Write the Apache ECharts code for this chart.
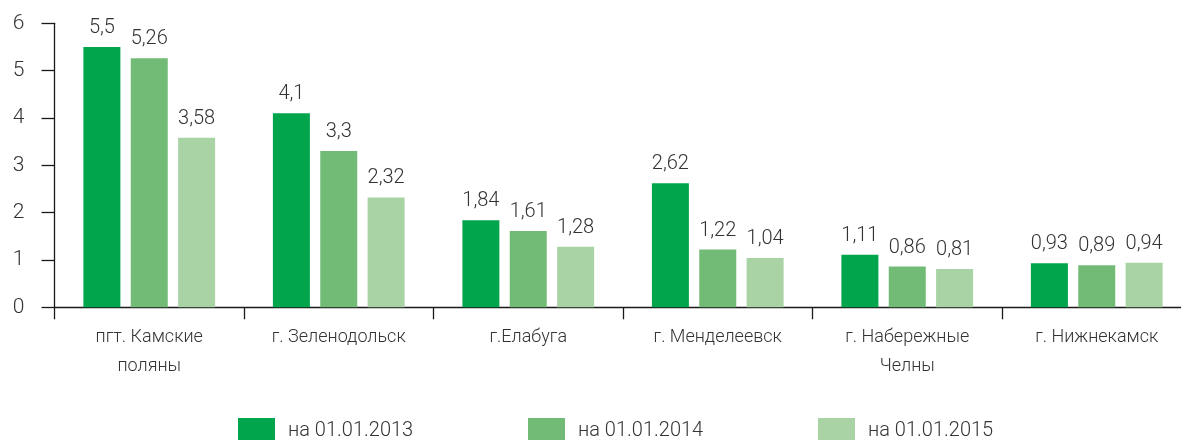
<!DOCTYPE html>
<html>
<head>
<meta charset="utf-8">
<script src="https://cdn.jsdelivr.net/npm/echarts@6/dist/echarts.min.js"></script>
<style>
  html, body { margin: 0; padding: 0; background: #fff; }
  #chart { width: 1181px; height: 440px; }
</style>
</head>
<body>
<div id="chart"></div>
<script>
// Categories (settlements) and yearly values
const categories = ['пгт. Камские\nполяны', 'г. Зеленодольск', 'г.Елабуга', 'г. Менделеевск', 'г. Набережные\nЧелны', 'г. Нижнекамск'];
const seriesNames = ['на 01.01.2013', 'на 01.01.2014', 'на 01.01.2015'];
const values2013 = [5.5, 4.1, 1.84, 2.62, 1.11, 0.93];
const values2014 = [5.26, 3.3, 1.61, 1.22, 0.86, 0.89];
const values2015 = [3.58, 2.32, 1.28, 1.04, 0.81, 0.94];
const yTicks = { min: 0, max: 6, interval: 1 };

const colors = ['#00a54c', '#72bb76', '#a9d3a4'];
const FONT = 'Roboto, "Liberation Sans", sans-serif';
const WEIGHT = 300;
const TEXT = '#333333';
const AXIS = '#1a1a1a';

const fmt = v => String(v).replace('.', ',');

function bar(name, data, color) {
  return {
    name, type: 'bar', data,
    barWidth: 37, barGap: '28%',
    itemStyle: { color },
    label: {
      show: true, position: 'top', distance: 9,
      formatter: p => fmt(p.value),
      fontFamily: FONT, fontWeight: WEIGHT, fontSize: 20, color: TEXT
    }
  };
}

const legendPos = [233, 523, 813];
const chart = echarts.init(document.getElementById('chart'), null, { renderer: 'canvas' });
chart.setOption({
  animation: false,
  color: colors,
  // the last category runs slightly past the right edge of the canvas
  grid: { left: 54.5, width: 1137, top: 23.3, bottom: 132.7, containLabel: false, outerBoundsMode: 'none' },
  legend: seriesNames.map((n, i) => ({
    data: [n], left: legendPos[i], top: 413,
    itemWidth: 37, itemHeight: 26, icon: 'rect',
    textStyle: { fontFamily: FONT, fontWeight: WEIGHT, fontSize: 20, color: TEXT, padding: [0, 0, 0, 8] }
  })),
  xAxis: {
    type: 'category', data: categories,
    axisLine: { lineStyle: { color: AXIS, width: 1.3 } },
    axisTick: { show: true, length: 12, lineStyle: { color: AXIS, width: 1.3 } },
    axisLabel: { fontFamily: FONT, fontWeight: WEIGHT, fontSize: 18, color: TEXT, margin: 16, lineHeight: 29, interval: 0 }
  },
  yAxis: {
    type: 'value', min: yTicks.min, max: yTicks.max, interval: yTicks.interval,
    splitLine: { show: false },
    axisLine: { show: true, lineStyle: { color: AXIS, width: 1.3 } },
    axisTick: { show: true, length: 13, lineStyle: { color: AXIS, width: 1.3 } },
    axisLabel: { fontFamily: FONT, fontWeight: WEIGHT, fontSize: 21, color: TEXT, margin: 30 }
  },
  series: [
    bar(seriesNames[0], values2013, colors[0]),
    bar(seriesNames[1], values2014, colors[1]),
    bar(seriesNames[2], values2015, colors[2])
  ]
});
</script>
</body>
</html>
